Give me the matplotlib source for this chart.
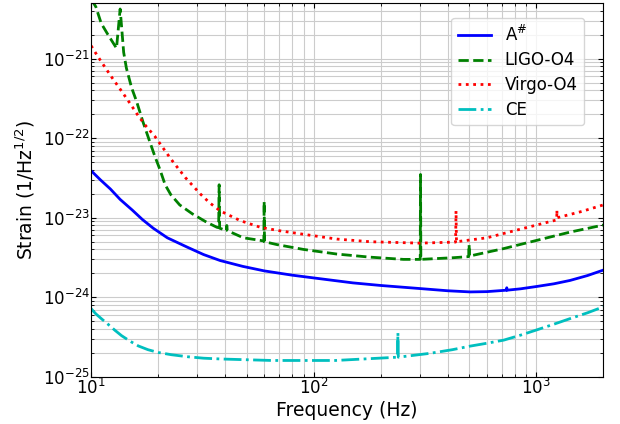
import numpy as np
import matplotlib.pyplot as plt

# A# design curve
f_asharp = [10, 11, 12.2, 13.5, 15.3, 17, 19, 22, 26.9, 32, 38, 48, 60, 80, 96, 150, 200, 300, 400,
            505, 600, 735, 737, 739, 850, 1005, 1200, 1417, 1700, 2000]
h_asharp = [3.9e-23, 3.0e-23, 2.3e-23, 1.7e-23, 1.25e-23, 9.5e-24, 7.4e-24, 5.6e-24, 4.3e-24, 3.45e-24,
            2.9e-24, 2.45e-24, 2.15e-24, 1.9e-24, 1.78e-24, 1.52e-24, 1.41e-24, 1.29e-24, 1.21e-24,
            1.17e-24, 1.18e-24, 1.23e-24, 1.32e-24, 1.23e-24, 1.28e-24, 1.37e-24, 1.48e-24, 1.63e-24,
            1.88e-24, 2.2e-24]

# LIGO O4
f_ligo = [10, 10.5, 11.1, 11.9, 13.0, 13.5, 14.0, 14.4, 15.2, 16.0, 17.1, 18.3, 19.3, 20.4, 21.5,
          22.8, 25, 28.5, 33, 36.7, 37.4, 37.6, 37.8, 40.5, 40.7, 40.9, 48.3, 57.5, 59.7, 59.9, 60.1,
          68.4, 90, 127, 179, 253, 301, 302, 303, 425, 497, 499, 501, 714, 1005, 1417, 2000]
h_ligo = [5.6e-21, 4.47e-21, 2.77e-21, 2.0e-21, 1.35e-21, 4.2e-21, 1.2e-21, 7.6e-22, 4.3e-22, 2.9e-22,
          1.6e-22, 9.2e-23, 6.0e-23, 4.0e-23, 2.6e-23, 1.95e-23, 1.45e-23, 1.12e-23, 8.8e-24, 7.6e-24,
          7.5e-24, 2.6e-23, 7.4e-24, 6.9e-24, 8.0e-24, 6.9e-24, 5.6e-24, 5.2e-24, 5.1e-24, 1.6e-23,
          5.0e-24, 4.6e-24, 4.0e-24, 3.5e-24, 3.2e-24, 3.0e-24, 3.0e-24, 3.5e-23, 3.0e-24, 3.15e-24,
          3.25e-24, 4.6e-24, 3.3e-24, 4.1e-24, 5.2e-24, 6.6e-24, 8.1e-24]

# Virgo O4
f_virgo = [10, 10.7, 11.5, 12.5, 13.7, 15, 16.3, 17.7, 19.3, 21, 22.9, 26.5, 30.9, 34, 38, 46.8, 57.5,
           69.5, 90, 127, 179, 300, 434, 436, 438, 600, 850, 1236, 1238, 1240, 1600, 2000]
h_virgo = [1.45e-21, 1.07e-21, 7.9e-22, 5.6e-22, 3.9e-22, 2.7e-22, 1.9e-22, 1.4e-22, 1.06e-22, 7.6e-23,
           5.4e-23, 3.2e-23, 2.0e-23, 1.55e-23, 1.22e-23, 9.2e-24, 7.6e-24, 6.9e-24, 6.2e-24, 5.4e-24,
           5.0e-24, 4.8e-24, 4.95e-24, 1.22e-23, 5.0e-24, 5.6e-24, 7.2e-24, 9.4e-24, 1.25e-23, 1.0e-23,
           1.2e-23, 1.45e-23]

# Cosmic Explorer
f_ce = [10, 10.5, 11.2, 11.9, 12.8, 13.7, 15, 16.3, 18, 20, 23, 27.3, 32, 38.5, 64.8, 125, 229, 238,
        239, 240, 333, 420, 505, 600, 714, 850, 1005, 1200, 1417, 1700, 2000]
h_ce = [7.2e-25, 6.2e-25, 5.3e-25, 4.6e-25, 3.85e-25, 3.3e-25, 2.8e-25, 2.45e-25, 2.2e-25, 2.03e-25,
        1.9e-25, 1.79e-25, 1.72e-25, 1.68e-25, 1.61e-25, 1.61e-25, 1.76e-25, 1.77e-25, 3.6e-25,
        1.77e-25, 1.98e-25, 2.2e-25, 2.44e-25, 2.65e-25, 2.9e-25, 3.35e-25, 3.9e-25, 4.6e-25, 5.4e-25,
        6.4e-25, 7.6e-25]

fig = plt.figure(figsize=(6.2, 4.24), dpi=100)
ax = fig.add_axes([0.147, 0.111, 0.826, 0.882])

ax.loglog(f_asharp, h_asharp, 'b-', lw=2, label=r'A$^{\#}$')
ax.loglog(f_ligo, h_ligo, 'g--', lw=2, label='LIGO-O4')
ax.loglog(f_virgo, h_virgo, 'r:', lw=2, label='Virgo-O4')
ax.loglog(f_ce, h_ce, 'c-.', lw=2, label='CE')

ax.set_xlim(10, 2000)
ax.set_ylim(1e-25, 5e-21)
ax.grid(True, which='both', color='#cccccc', lw=0.8)
ax.tick_params(which='both', direction='in', top=True, right=True, labelsize=12, pad=1)
ax.set_xlabel('Frequency (Hz)', fontsize=13.5, labelpad=2)
ax.set_ylabel(r'Strain (1/Hz$^{1/2}$)', fontsize=13.5, labelpad=4)
ax.legend(loc='upper right', fontsize=12, bbox_to_anchor=(0.963, 0.96), borderaxespad=0,
          labelspacing=0.4)

fig.savefig('out.png')
